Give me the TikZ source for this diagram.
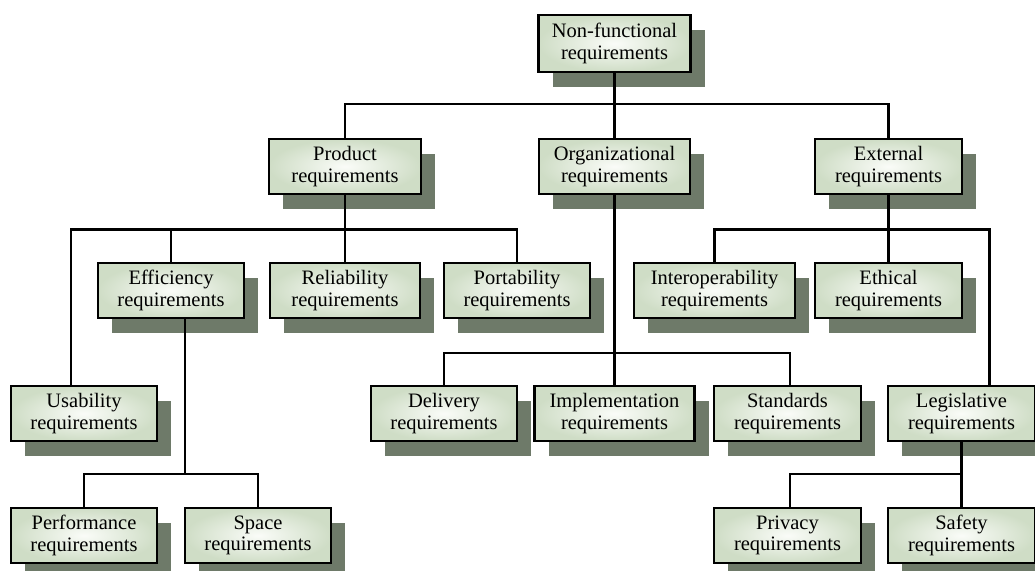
\documentclass[tikz,border=0pt]{standalone}
\usepackage{fontspec}
\setmainfont{Liberation Serif}
\usetikzlibrary{shadows,calc}
\definecolor{shadowc}{HTML}{6E7A69}
\definecolor{boxout}{HTML}{CFDDC6}
\definecolor{boxin}{HTML}{FAFCF8}
\tikzset{
  req/.style={draw=black, line width=2.2pt, inner color=boxin, outer color=boxout,
    minimum height=55pt, text width=#1-8pt, align=center, minimum width=#1,
    inner sep=0pt, font=\fontsize{20.5}{21.5}\selectfont,
    general shadow={fill=shadowc, shadow xshift=14pt, shadow yshift=-15pt}},
  req/.default=146pt,
  conn/.style={line width=2.2pt, black}
}
\begin{document}
\begin{tikzpicture}[x=1pt,y=-1pt]
\useasboundingbox (0,0) rectangle (1035,570);
% nodes
\node[req=152pt, minimum height=57pt] (root) at (614.5,43.5) {Non-functional\\requirements};
\node[req=152pt] (prod) at (345,166.5) {Product\\requirements};
\node[req=151pt] (org) at (614.5,166.5) {Organizational\\requirements};
\node[req=147pt] (ext) at (888.5,166.5) {External\\requirements};
\node[req=146pt] (eff) at (171,290.5) {Efficiency\\requirements};
\node[req=150pt] (rel) at (345,290.5) {Reliability\\requirements};
\node[req=146pt] (port) at (517,290.5) {Portability\\requirements};
\node[req=161pt] (inter) at (714.5,290.5) {Interoperability\\requirements};
\node[req=147pt] (eth) at (888.5,290.5) {Ethical\\requirements};
\node[req=146pt] (usab) at (84,413.5) {Usability\\requirements};
\node[req=146pt] (deliv) at (444,413.5) {Delivery\\requirements};
\node[req=160pt] (impl) at (614.5,413.5) {Implementation\\requirements};
\node[req=147pt] (stand) at (787.5,413.5) {Standards\\requirements};
\node[req=147pt] (legis) at (961.5,413.5) {Legislative\\requirements};
\node[req=146pt] (perf) at (84,535.5) {Performance\\requirements};
\node[req=146pt] (space) at (258,535.5) {Space\\requirements};
\node[req=147pt] (priv) at (787.5,535.5) {Privacy\\requirements};
\node[req=147pt] (safe) at (961.5,535.5) {Safety\\requirements};
% bus coordinates
\coordinate (b1) at (614.5,104);
\coordinate (b2) at (345,229.5);
\coordinate (b3) at (185,474);
\coordinate (b4) at (614.5,353);
\coordinate (b5) at (888.5,229.5);
\coordinate (b6) at (961.5,474);
% connectors
\draw[conn] (root.south) -- (b1);
\draw[conn] (prod.north) |- (b1) -| (ext.north);
\draw[conn] (org.north) -- (b1);
\draw[conn] (prod.south) -- (b2);
\draw[conn] ($(usab.north)+(-13,0)$) |- (b2) -| (port.north);
\draw[conn] (eff.north) -- (eff.north |- b2);
\draw[conn] (rel.north) -- (rel.north |- b2);
\draw[conn] (b3 |- eff.south) -- (b3);
\draw[conn] (perf.north) |- (b3) -| (space.north);
\draw[conn] (org.south) -- (b4);
\draw[conn] (deliv.north) |- (b4) -| ($(stand.north)+(2.5,0)$);
\draw[conn] (impl.north) -- (b4);
\draw[conn] (ext.south) -- (b5);
\draw[conn] (inter.north) |- (b5) -| ($(legis.north)+(28,0)$);
\draw[conn] (eth.north) -- (b5);
\draw[conn] (legis.south) -- (b6);
\draw[conn] ($(priv.north)+(2.5,0)$) |- (b6) -- (safe.north);
\end{tikzpicture}
\end{document}
